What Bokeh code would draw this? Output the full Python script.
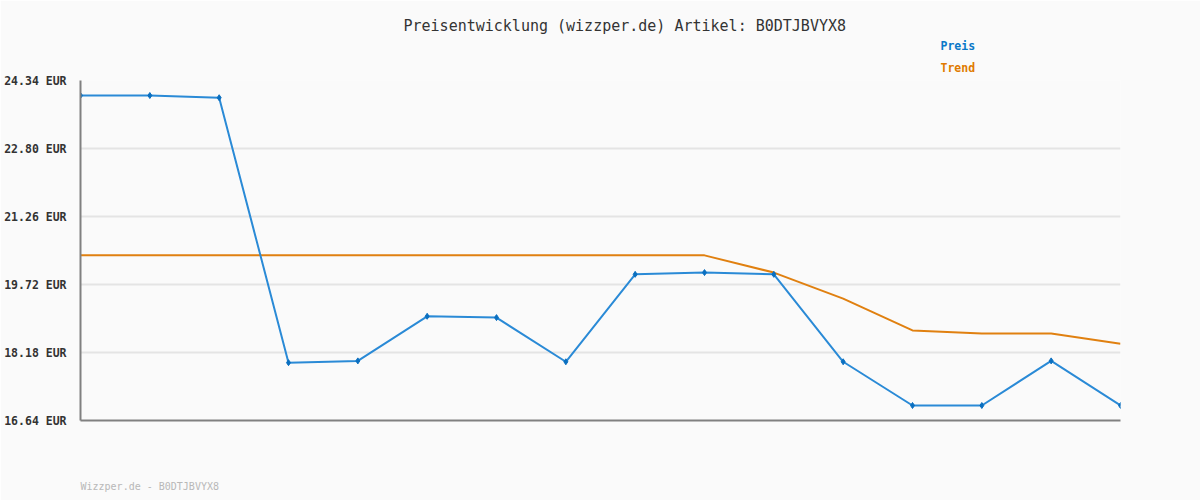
from bokeh.plotting import figure
from bokeh.models import FixedTicker, CustomJSTickFormatter, Title, Range1d
from bokeh.embed import file_html
from bokeh.resources import INLINE

idx = list(range(16))
preis = [24.00, 24.00, 23.95, 17.95, 17.99, 19.00, 18.97, 17.97,
         19.95, 19.99, 19.95, 17.97, 16.98, 16.98, 17.99, 16.98]
trend = [20.38, 20.38, 20.38, 20.38, 20.38, 20.38, 20.38, 20.38,
         20.38, 20.38, 19.99, 19.40, 18.68, 18.61, 18.61, 18.38]
yticks = [16.64, 18.18, 19.72, 21.26, 22.80, 24.34]
title_text = "Preisentwicklung (wizzper.de) Artikel: B0DTJBVYX8"
footer_text = "Wizzper.de - B0DTJBVYX8"

BG = "#fafafa"
MONO = "DejaVu Sans Mono"

p = figure(width=1200, height=500, output_backend="svg", toolbar_location=None,
           x_range=Range1d(0, 15), y_range=Range1d(16.64, 24.34),
           min_border_left=80, min_border_right=80, min_border_top=80, min_border_bottom=80,
           background_fill_color=BG, border_fill_color=BG, outline_line_color=None)
p.title.visible = False

p.xgrid.visible = False
p.ygrid.grid_line_color = "#e4e4e4"
p.ygrid.grid_line_width = 2

p.yaxis.ticker = FixedTicker(ticks=yticks)
p.yaxis.formatter = CustomJSTickFormatter(code="return tick.toFixed(2) + ' EUR';")
p.yaxis.major_tick_line_color = None
p.yaxis.minor_tick_line_color = None
p.yaxis.axis_line_color = "#808080"
p.yaxis.axis_line_width = 2
p.yaxis.major_label_text_font = MONO
p.yaxis.major_label_text_font_size = "11.5px"
p.yaxis.major_label_text_font_style = "bold"
p.yaxis.major_label_text_color = "#333333"
p.yaxis.major_label_standoff = 8

p.xaxis.ticker = FixedTicker(ticks=[])
p.xaxis.major_tick_line_color = None
p.xaxis.minor_tick_line_color = None
p.xaxis.major_label_text_font_size = "0px"
p.xaxis.axis_line_color = "#808080"
p.xaxis.axis_line_width = 2

p.line(idx, trend, line_color="#e08010", line_width=2)
p.line(idx, preis, line_color="#2a8ad6", line_width=2)
p.scatter(idx, preis, marker="diamond", size=6, color="#0a6fc0")

# Stacked titles above the frame: first added is closest to the frame
p.add_layout(Title(text="Trend", align="left", offset=860, standoff=11,
                   text_font=MONO, text_font_size="11.5px", text_font_style="bold",
                   text_color="#e07a00"), "above")
p.add_layout(Title(text="Preis", align="left", offset=860, standoff=1,
                   text_font=MONO, text_font_size="11.5px", text_font_style="bold",
                   text_color="#0a78c8"), "above")
p.add_layout(Title(text=title_text, align="left", offset=323, standoff=3,
                   text_font=MONO, text_font_size="15px", text_font_style="normal",
                   text_color="#333333"), "above")
p.add_layout(Title(text="\n" * 5 + footer_text, align="left", offset=0, standoff=6,
                   text_font=MONO, text_font_size="10px", text_font_style="normal",
                   text_color="#b8b8b8"), "below")

open("out.html", "w").write(file_html(p, INLINE))
